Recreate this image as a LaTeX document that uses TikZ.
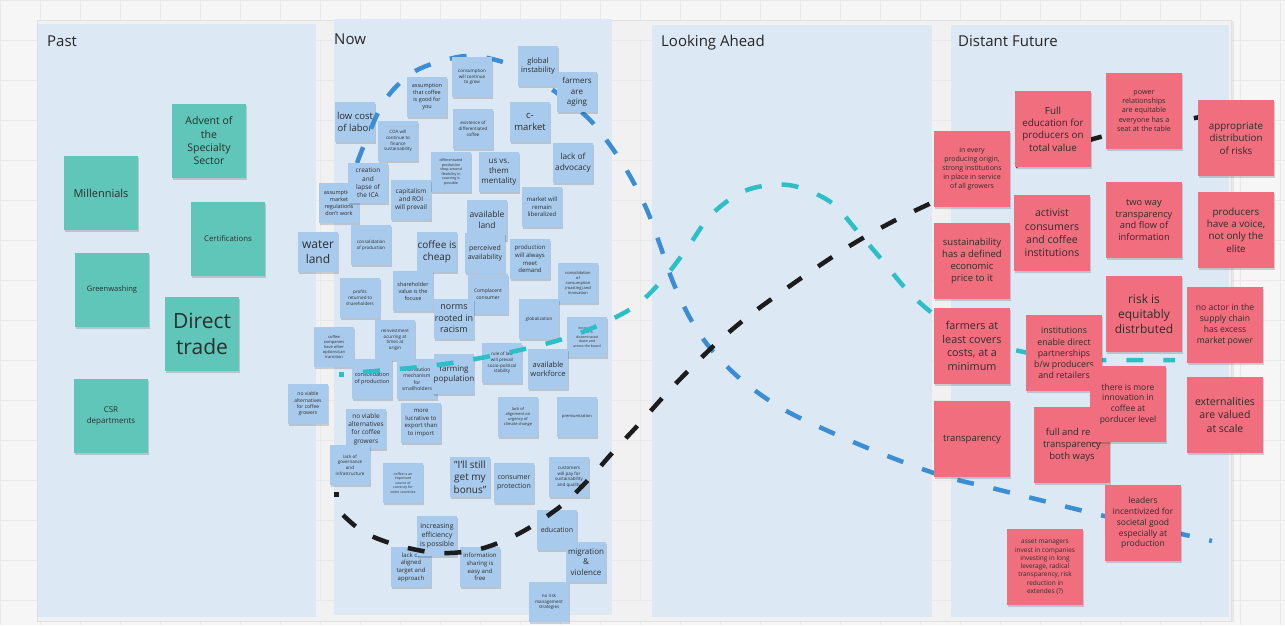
\documentclass[tikz,border=0pt]{standalone}
\usepackage{fontspec}
\setmainfont{Open Sans}
\usetikzlibrary{shadows}
\definecolor{boardbg}{HTML}{F6F6F6}
\definecolor{gapgray}{HTML}{F1F1F1}
\definecolor{gridgray}{HTML}{E9E9E9}
\definecolor{panelblue}{HTML}{DDE8F5}
\definecolor{tealnote}{HTML}{5FC6B9}
\definecolor{bluenote}{HTML}{A8CAEC}
\definecolor{pinknote}{HTML}{F06E7E}
\definecolor{ink}{HTML}{2E2E2E}
\definecolor{blueline}{HTML}{3B8ED3}
\definecolor{tealline}{HTML}{2DBFC8}
\definecolor{blackline}{HTML}{1C1C1C}
\newcommand{\nf}[1]{\fontsize{#1}{\fpeval{1.27*#1}}\selectfont}

\begin{document}
\begin{tikzpicture}[x=1pt,y=1pt]
            \tikzstyle{every node}+=[inner sep=0pt, text=ink, align=center]
            \tikzstyle{head}=[anchor=base west, font=\fontsize{15}{18}\selectfont, text=black!85]
            \tikzstyle{shade}=[drop shadow={shadow xshift=0.6pt, shadow yshift=-2.2pt, opacity=0.16, fill=black}]
            \tikzstyle{tnote}=[fill=tealnote, minimum width=74pt, minimum height=74pt, shade]
            \tikzstyle{bnote}=[fill=bluenote, minimum width=40pt, minimum height=40pt, shade]
            \tikzstyle{pnote}=[fill=pinknote, minimum width=76pt, minimum height=76pt, shade]
            \tikzstyle{dashcurve}=[line width=4.5pt, dash pattern=on 17pt off 20pt]
            \useasboundingbox (0,0) rectangle (1285,-625);
                % board and columns
                \fill [boardbg] (0,0) rectangle (1285,-625);
                \draw [gridgray, step=40pt] (0,-625) grid (1285,0);
                \fill [gapgray, draw=black!12, drop shadow={opacity=0.12, shadow yshift=-1pt}] (37,-20) rectangle (1231,-621);
                \draw [gridgray, step=40pt] (40,-600) grid (1225,-40);
                \fill [panelblue] (38,-24) rectangle (316,-617);
                \fill [panelblue] (334,-19) rectangle (612,-615);
                \fill [panelblue] (652,-25) rectangle (932,-617);
                \fill [panelblue] (951,-25) rectangle (1229,-617);
                \node [head] (hpast) at (47,-46) {Past};
                \node [head] (hnow) at (334,-44) {Now};
                \node [head] (hahead) at (661,-46) {Looking Ahead};
                \node [head] (hfuture) at (958,-46) {Distant Future};
                % past
                \node [tnote, font=\nf{10.5}] (advent) at (209,-141) {Advent of\\the\\Specialty\\Sector};
                \node [tnote, font=\nf{11}] (millen) at (101,-193) {Millennials};
                \node [tnote, font=\nf{7.8}] (certif) at (228,-239) {Certifications};
                \node [tnote, font=\nf{7.5}] (greenw) at (112,-290) {Greenwashing};
                \node [tnote, font=\nf{21}] (direct) at (202,-334) {Direct\\trade};
                \node [tnote, font=\nf{8}] (csr) at (111,-416) {CSR\\departments};
                % now
                \node [bnote, font=\nf{9.5}] (labor) at (355,-122) {low cost\\of labor};
                \node [bnote, font=\nf{5.5}] (good) at (427,-97) {assumption\\that coffee\\is good for\\you};
                \node [bnote, font=\nf{9.5}] (cmarket) at (530,-122) {c-\\market};
                \node [bnote, font=\nf{4.5}] (exist) at (473,-129) {existence of\\differentiated\\coffee};
                \node [bnote, font=\nf{4.5}] (coa) at (398,-141) {COA will\\continue to\\finance\\sustainability};
                \node [bnote, font=\nf{3.6}] (shop) at (451,-172) {differentiated\\production\\shop around\\flexibility in\\sourcing is\\possible};
                \node [bnote, font=\nf{8}] (usvs) at (499,-172) {us vs.\\them\\mentality};
                \node [bnote, font=\nf{8.3}] (advoc) at (573,-163) {lack of\\advocacy};
                \node [bnote, font=\nf{5.5}] (regul) at (339,-203) {assumption\\market\\regulations\\don't work};
                \node [bnote, font=\nf{6.5}] (roi) at (411,-200) {capitalism\\and ROI\\will prevail};
                \node [bnote, font=\nf{6}] (liber) at (542,-207) {market will\\remain\\liberalized};
                \node [bnote, font=\nf{8.5}] (avland) at (487,-220) {available\\land};
                \node [bnote, font=\nf{12}] (water) at (318,-252) {water\\land};
                \node [bnote, font=\nf{4.5}] (consprod) at (371,-245) {consolidation\\of production};
                \node [bnote, font=\nf{10}] (cheap) at (437,-252) {coffee is\\cheap};
                \node [bnote, font=\nf{7}] (perceiv) at (485,-253) {perceived\\availability};
                \node [bnote, font=\nf{6}] (demand) at (530,-259) {production\\will always\\meet\\demand};
                \node [bnote, font=\nf{4}] (roast) at (578,-283) {consolidation\\of\\consumption\\(roasting) and\\innovation};
                \node [bnote, font=\nf{4.5}] (profit) at (360,-298) {profits\\returned to\\shareholders};
                \node [bnote, font=\nf{5.5}] (sharev) at (413,-291) {shareholder\\value is the\\focuse};
                \node [bnote, font=\nf{5}] (complac) at (488,-294) {Complacent\\consumer};
                \node [bnote, font=\nf{9}] (racism) at (454,-319) {norms\\rooted in\\racism};
                \node [bnote, font=\nf{4.5}] (globali) at (539,-319) {globalization};
                \node [bnote, font=\nf{4}] (transit) at (334,-347) {coffee\\companies\\have other\\options/can\\transition};
                \node [bnote, font=\nf{4.5}] (reinv) at (395,-340) {reinvestment\\ocurring at\\times at\\origin};
                \node [bnote, font=\nf{3.5}] (innov) at (587,-337) {innovation\\cycle is\\disseminated\\down and\\across the board};
                \node [bnote, font=\nf{5.5}] (consprodb) at (372,-379) {consolidation\\of production};
                \node [bnote, font=\nf{5}] (distrib) at (417,-379) {distribution\\mechanism\\for\\smallholders};
                \node [bnote, font=\nf{8}] (farmpop) at (454,-374) {farming\\population};
                \node [bnote, font=\nf{4.5}] (lawrule) at (502,-363) {rule of law\\will prevail\\socio-political\\stability};
                \node [bnote, font=\nf{7.5}] (workf) at (548,-369) {available\\workforce};
                \node [bnote, font=\nf{5}] (noviaba) at (308,-404) {no viable\\alternatives\\for coffee\\growers};
                \node [bnote, font=\nf{6.5}] (noviabb) at (366,-429) {no viable\\alternatives\\for coffee\\growers};
                \node [bnote, font=\nf{6}] (export) at (421,-423) {more\\lucrative to\\export than\\to import};
                \node [bnote, font=\nf{4}] (climate) at (518,-417) {lack of\\alignment on\\urgency of\\climate change};
                \node [bnote, font=\nf{4}] (premium) at (577,-417) {premiumization};
                \node [bnote, font=\nf{4.5}] (govern) at (350,-465) {lack of\\governance\\and\\infrastructure};
                \node [bnote, font=\nf{3.5}] (currency) at (403,-483) {coffee is an\\important\\source of\\currency for\\some countries};
                \node [bnote, font=\nf{10}] (bonus) at (470,-477) {"I'll still\\get my\\bonus"};
                \node [bnote, font=\nf{7}] (protect) at (514,-483) {consumer\\protection};
                \node [bnote, font=\nf{4.5}] (paysus) at (569,-477) {customers\\will pay for\\sustainability\\and quality};
                \node [bnote, font=\nf{6}] (aligned) at (411,-567) {lack of\\aligned\\target and\\approach};
                \node [bnote, font=\nf{7}] (effic) at (437,-536) {increasing\\efficiency\\is possible};
                \node [bnote, font=\nf{6}] (infoshr) at (480,-567) {information\\sharing is\\easy and\\free};
                \node [bnote, font=\nf{7}] (educ) at (557,-530) {education};
                \node [bnote, font=\nf{8}] (migr) at (586,-562) {migration\\\&\\violence};
                \node [bnote, font=\nf{4.5}] (norisk) at (549,-602) {no risk\\management\\strategies};
                % the three curves
                \draw [blueline, dashcurve] plot [smooth, tension=0.55] coordinates {(357,-163) (367,-138) (385,-100) (412,-73) (445,-60) (475,-56) (514,-66) (550,-88) (587,-117) (610,-145) (630,-176) (647,-210) (660,-245) (673,-282) (690,-318) (710,-348) (737,-376) (767,-399) (800,-418) (870,-449) (940,-475) (1000,-490) (1100,-515) (1212,-541)};
                \fill [blackline] (334,-492) rectangle (339,-497);
                \draw [blackline, dashcurve] plot [smooth, tension=0.55] coordinates {(343,-515) (365,-533) (400,-546) (440,-553) (480,-549) (520,-533) (561,-506) (590,-478) (613,-452) (640,-423) (665,-395) (692,-367) (720,-340) (750,-315) (780,-293) (810,-272) (843,-250) (877,-230) (910,-213) (960,-190) (1012,-167) (1093,-139) (1150,-127) (1205,-116)};
                \fill [tealline] (339,-372) rectangle (344,-377);
                \draw [tealline, dashcurve] plot [smooth, tension=0.55] coordinates {(363,-372) (420,-367) (458,-362) (496,-355) (533,-347) (569,-337) (606,-322) (638,-304) (665,-277) (688,-247) (710,-216) (740,-193) (770,-185) (798,-187) (832,-203) (858,-232) (882,-260) (907,-290) (935,-315) (975,-337) (1015,-350) (1060,-358) (1100,-360) (1175,-360)};
                \node [bnote, font=\nf{6.5}] (ica) at (368,-183) {creation\\and\\lapse of\\the ICA};
                \node [bnote, font=\nf{4.5}] (grow) at (472,-77) {consumption\\will continue\\to grow};
                \node [bnote, font=\nf{7.5}] (instab) at (538,-66) {global\\instability};
                \node [bnote, font=\nf{8}] (aging) at (577,-92) {farmers\\are\\aging};
                % distant future
                \node [pnote, font=\nf{7}] (origin) at (972,-169) {in every\\producing origin,\\strong institutions\\in place in service\\of all growers};
                \node [pnote, font=\nf{9.8}] (fulledu) at (1053,-129) {Full\\education for\\producers on\\total value};
                \node [pnote, font=\nf{7.2}] (power) at (1144,-111) {power\\relationships\\are equitable\\everyone has a\\seat at the table};
                \node [pnote, font=\nf{9.8}] (approp) at (1236,-138) {appropriate\\distribution\\of risks};
                \node [pnote, font=\nf{10.5}] (activ) at (1052,-233) {activist\\consumers\\and coffee\\institutions};
                \node [pnote, font=\nf{9.3}] (twoway) at (1144,-220) {two way\\transparency\\and flow of\\information};
                \node [pnote, font=\nf{9.8}] (voice) at (1236,-230) {producers\\have a voice,\\not only the\\elite};
                \node [pnote, font=\nf{9.5}] (sustain) at (972,-261) {sustainability\\has a defined\\economic\\price to it};
                \node [pnote, font=\nf{12}] (riskeq) at (1144,-314) {risk is\\equitably\\distrbuted};
                \node [pnote, font=\nf{8.6}] (noactor) at (1225,-325) {no actor in the\\supply chain\\has excess\\market power};
                \node [pnote, font=\nf{10.8}] (covers) at (972,-346) {farmers at\\least covers\\costs, at a\\minimum};
                \node [pnote, font=\nf{8.8}] (instit) at (1064,-353) {institutions\\enable direct\\partnerships\\b/w producers\\and retailers};
                \node [pnote, font=\nf{9.5}] (fullreal) at (1072,-445) {full and real\\transparency\\both ways};
                \node [pnote, font=\nf{8.5}] (innovdf) at (1128,-404) {there is more\\innovation in\\coffee at\\porducer level};
                \node [pnote, font=\nf{10.5}] (extern) at (1225,-415) {externalities\\are valued\\at scale};
                \node [pnote, font=\nf{9.5}] (transp) at (972,-439) {transparency};
                \node [pnote, font=\nf{8.5}] (leaders) at (1143,-523) {leaders\\incentivized for\\societal good\\especially at\\production};
                \node [pnote, font=\nf{6.5}] (asset) at (1045,-567) {asset managers\\invest in companies\\investing in long\\leverage, radical\\transparency, risk\\reduction in\\extendes (?)};
            \end{tikzpicture}
\end{document}
